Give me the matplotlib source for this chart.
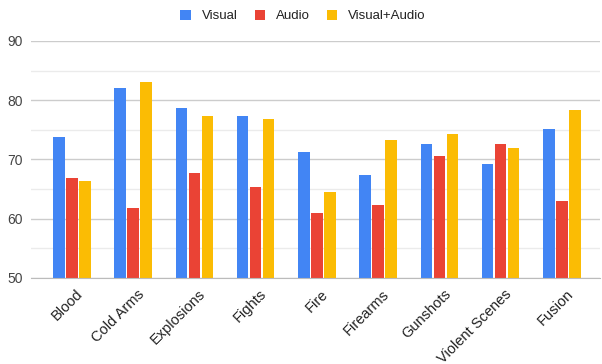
import matplotlib
matplotlib.use("Agg")
import matplotlib.pyplot as plt
import matplotlib.transforms as mtransforms
import numpy as np

categories = ["Blood", "Cold Arms", "Explosions", "Fights", "Fire", "Firearms",
              "Gunshots", "Violent Scenes", "Fusion"]
visual = [73.8, 82.1, 78.7, 77.4, 71.2, 67.3, 72.6, 69.3, 75.2]
audio = [66.8, 61.8, 67.7, 65.4, 60.9, 62.3, 70.6, 72.7, 63.0]
visual_audio = [66.4, 83.0, 77.3, 76.8, 64.5, 73.3, 74.3, 72.0, 78.3]
series_names = ["Visual", "Audio", "Visual+Audio"]
colors = ["#4285F4", "#EA4335", "#FBBC04"]
yticks = [50, 60, 70, 80, 90]

plt.rcParams['font.family'] = ['Liberation Sans', 'DejaVu Sans']

fig = plt.figure(figsize=(6.02, 3.64), dpi=100)
L, R, T, B = 31, 600, 41, 278
ax = fig.add_axes([L/602, 1-B/364, (R-L)/602, (B-T)/364])

x = np.arange(len(categories))
w = 0.188
gap = 0.024
for i, (vals, name, c) in enumerate(zip([visual, audio, visual_audio], series_names, colors)):
    ax.bar(x + (i-1)*(w+gap), np.array(vals) - 50, bottom=50, width=w, color=c,
           label=name, zorder=3)

ax.set_ylim(50, 90)
ax.set_xlim(-0.665, 8.62)
ax.set_yticks(yticks)
ax.set_yticks([55, 65, 75, 85], minor=True)
ax.yaxis.grid(True, which='major', color='#cccccc', linewidth=1, zorder=0)
ax.yaxis.grid(True, which='minor', color='#ebebeb', linewidth=1, zorder=0)
ax.tick_params(axis='y', which='both', length=0, labelsize=10, labelcolor='#444444', pad=6)
ax.set_xticks(x)
ax.set_xticklabels(categories, rotation=45, ha='right', va='center',
                   rotation_mode='anchor', fontsize=10.5, color='#222222')
ax.tick_params(axis='x', length=0, pad=10)
offset = mtransforms.ScaledTranslation(0.09, 0, fig.dpi_scale_trans)
for lab in ax.get_xticklabels():
    lab.set_transform(lab.get_transform() + offset)
for s in ['top', 'right', 'left']:
    ax.spines[s].set_visible(False)
ax.spines['bottom'].set_color('#bbbbbb')
ax.spines['bottom'].set_zorder(4)

leg = fig.legend(loc='upper center', bbox_to_anchor=(0.503, 1.006), ncol=3, frameon=False,
                 fontsize=9.5, handlelength=0.8, handleheight=0.8, handletextpad=0.8,
                 columnspacing=1.3, labelcolor='#222222')

fig.savefig("out.png", dpi=100)
